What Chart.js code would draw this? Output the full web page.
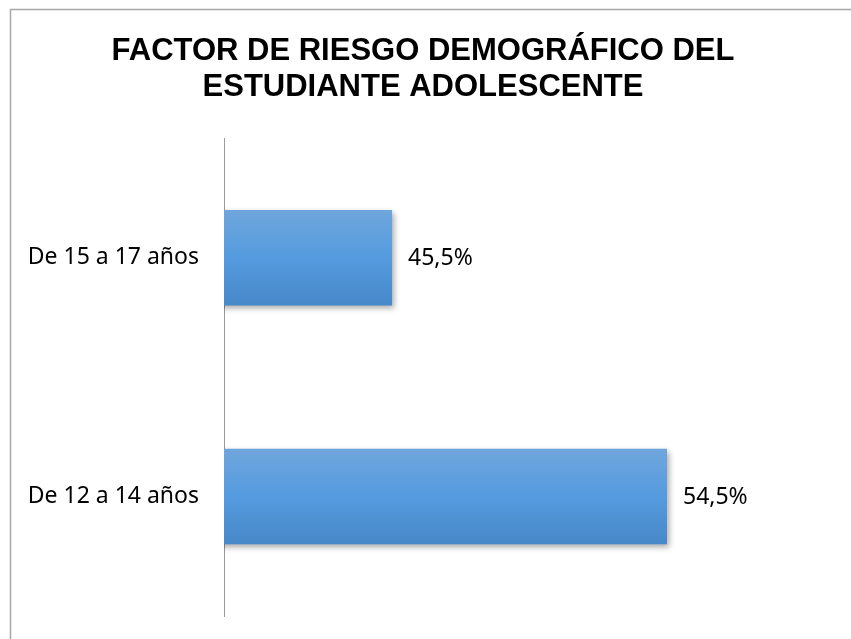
<!DOCTYPE html>
<html>
<head>
<meta charset="utf-8">
<script src="https://cdn.jsdelivr.net/npm/chart.js@4"></script>
<style>
  html, body { margin: 0; padding: 0; background: #fff; }
  #wrap { width: 851px; height: 639px; position: relative; }
</style>
</head>
<body>
<div id="wrap"><canvas id="chart" width="851" height="639"></canvas></div>
<script>
// Chart data
const categories = ['De 15 a 17 años', 'De 12 a 14 años'];
const percentages = [45.5, 54.5];
const titleLines = ['FACTOR DE RIESGO DEMOGRÁFICO DEL', 'ESTUDIANTE ADOLESCENTE'];
const axisMin = 40;
const axisMax = 60;

// Frame around the whole chart, like the spreadsheet chart border
const framePlugin = {
    id: 'frame',
    beforeDraw(chart) {
        const c = chart.ctx;
        c.save();
        c.fillStyle = '#ffffff';
        c.fillRect(0, 0, chart.width, chart.height);
        c.strokeStyle = '#a6a6a6';
        c.lineWidth = 1.5;
        c.strokeRect(10.5, 9.5, chart.width + 10, chart.height + 10);
        c.restore();
    }
};

// Soft drop shadow under the bars
const shadowPlugin = {
    id: 'barShadow',
    beforeDatasetDraw(chart) {
        const c = chart.ctx;
        c.save();
        c.shadowColor = 'rgba(0,0,0,0.35)';
        c.shadowBlur = 6;
        c.shadowOffsetX = 2;
        c.shadowOffsetY = 3;
    },
    afterDatasetDraw(chart) {
        chart.ctx.restore();
    }
};

// Value labels to the right of each bar
const valueLabels = {
    id: 'valueLabels',
    afterDatasetsDraw(chart) {
        const c = chart.ctx;
        const meta = chart.getDatasetMeta(0);
        c.save();
        c.font = '23px "Noto Sans"';
        c.fillStyle = '#000';
        c.textAlign = 'left';
        c.textBaseline = 'middle';
        meta.data.forEach((bar, i) => {
            const txt = percentages[i].toFixed(1).replace('.', ',') + '%';
            c.fillText(txt, bar.x + 16, bar.y + 1);
        });
        c.restore();
    }
};

function barGradient(context) {
    const { chart, dataIndex } = context;
    const yScale = chart.scales.y;
    if (!yScale || !chart.chartArea) return '#559ade';
    const cy = yScale.getPixelForValue(dataIndex);
    const h = (chart.chartArea.bottom - chart.chartArea.top) / categories.length * 0.4;
    if (!Number.isFinite(cy) || !Number.isFinite(h)) return '#559ade';
    const g = chart.ctx.createLinearGradient(0, cy - h / 2, 0, cy + h / 2);
    g.addColorStop(0, '#6fa6dc');
    g.addColorStop(0.5, '#559bdf');
    g.addColorStop(1, '#4788c8');
    return g;
}

new Chart(document.getElementById('chart'), {
    type: 'bar',
    data: {
        labels: categories,
        datasets: [{
            data: percentages,
            backgroundColor: barGradient,
            borderWidth: 0,
            barPercentage: 0.4,
            categoryPercentage: 1
        }]
    },
    options: {
        indexAxis: 'y',
        responsive: false,
        animation: false,
        devicePixelRatio: 1,
        layout: { padding: { left: 11, right: 16, top: 15, bottom: 23 } },
        plugins: {
            legend: { display: false },
            tooltip: { enabled: false },
            title: {
                display: true,
                text: titleLines,
                color: '#000',
                font: { family: '"Liberation Sans", Arial', size: 31, weight: 'bold', lineHeight: 1.15 },
                padding: { top: 19, bottom: 33 }
            }
        },
        scales: {
            x: {
                display: false,
                min: axisMin,
                max: axisMax
            },
            y: {
                grid: { display: false, drawTicks: false },
                border: { display: true, color: '#9a9a9a', width: 1 },
                ticks: {
                    color: '#000',
                    padding: 25,
                    font: { family: '"Noto Sans"', size: 23 }
                },
                afterFit(scale) {
                    scale.width = 213;
                    scale.paddingTop = 0;
                    scale.paddingBottom = 0;
                }
            }
        }
    },
    plugins: [framePlugin, shadowPlugin, valueLabels]
});
</script>
</body>
</html>
